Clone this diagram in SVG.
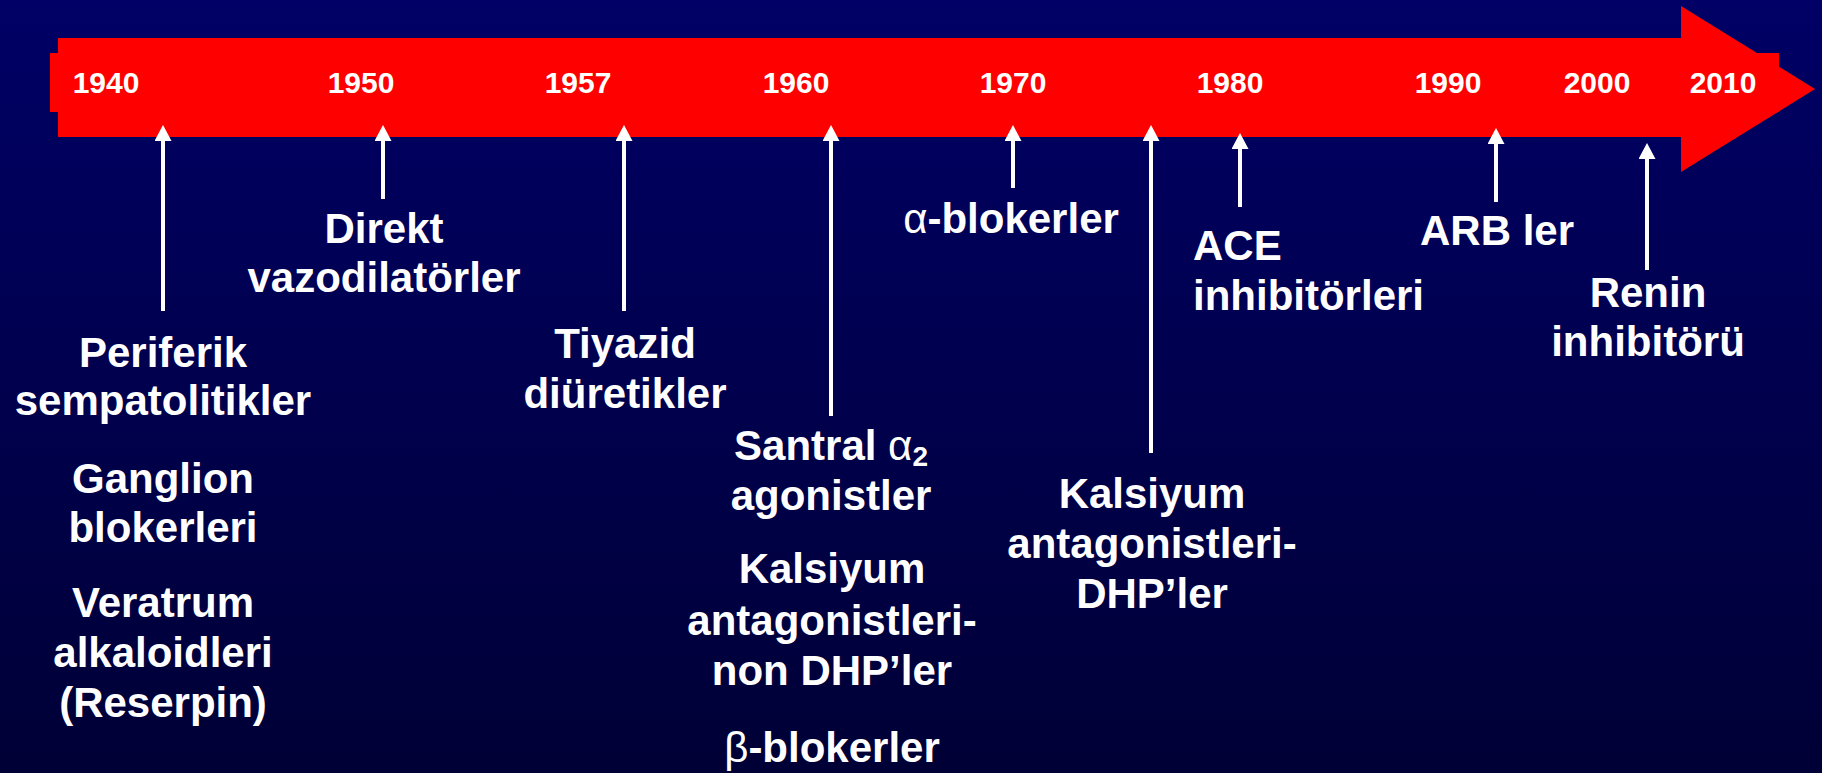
<svg xmlns="http://www.w3.org/2000/svg" width="1822" height="773" viewBox="0 0 1822 773">
<defs>
<linearGradient id="bg" x1="0" y1="0" x2="0" y2="1">
<stop offset="0" stop-color="#000066"/>
<stop offset="1" stop-color="#000036"/>
</linearGradient>
<marker id="head" markerUnits="userSpaceOnUse" markerWidth="16" markerHeight="17" refX="6" refY="8.5" orient="auto">
<path d="M0,0 L16,8.5 L0,17 Z" fill="#ffffff"/>
</marker>
<style>
.yr{font-family:"Liberation Sans",Arial,sans-serif;font-weight:bold;font-size:30px;fill:#ffffff;text-anchor:middle}
.lb{font-family:"Liberation Sans",Arial,sans-serif;font-weight:bold;font-size:42px;fill:#ffffff;text-anchor:middle}
.st{text-anchor:start}
.gk{font-weight:normal}
.cn line{stroke:#ffffff;stroke-width:4;marker-end:url(#head)}
</style>
</defs>
<rect x="0" y="0" width="1822" height="773" fill="url(#bg)"/>
<g id="timeline">
<rect x="50" y="53" width="1729" height="59" fill="#ff0000"/>
<polygon points="58,38 1681,38 1681,6 1815,89 1681,172 1681,137 58,137" fill="#ff0000"/>
<text class="yr" x="106" y="93">1940</text>
<text class="yr" x="361" y="93">1950</text>
<text class="yr" x="578" y="93">1957</text>
<text class="yr" x="796" y="93">1960</text>
<text class="yr" x="1013" y="93">1970</text>
<text class="yr" x="1230" y="93">1980</text>
<text class="yr" x="1448" y="93">1990</text>
<text class="yr" x="1597" y="93">2000</text>
<text class="yr" x="1723" y="93">2010</text>
</g>
<g id="connectors" class="cn">
<line x1="163" y1="311" x2="163" y2="135"/>
<line x1="383" y1="199" x2="383" y2="135"/>
<line x1="624" y1="311" x2="624" y2="135"/>
<line x1="831" y1="416" x2="831" y2="135"/>
<line x1="1013" y1="188" x2="1013" y2="135"/>
<line x1="1151" y1="453" x2="1151" y2="135"/>
<line x1="1240" y1="207" x2="1240" y2="143"/>
<line x1="1496" y1="202" x2="1496" y2="138"/>
<line x1="1647" y1="270" x2="1647" y2="153"/>
</g>
<g id="n1940">
<text class="lb" x="163" y="367">Periferik</text>
<text class="lb" x="163" y="415">sempatolitikler</text>
<text class="lb" x="163" y="493">Ganglion</text>
<text class="lb" x="163" y="542">blokerleri</text>
<text class="lb" x="163" y="617">Veratrum</text>
<text class="lb" x="163" y="667">alkaloidleri</text>
<text class="lb" x="163" y="717">(Reserpin)</text>
</g>
<g id="n1950">
<text class="lb" x="384" y="243">Direkt</text>
<text class="lb" x="384" y="292">vazodilatörler</text>
</g>
<g id="n1957">
<text class="lb" x="625" y="358">Tiyazid</text>
<text class="lb" x="625" y="408">diüretikler</text>
</g>
<g id="n1960">
<text class="lb" x="831" y="460">Santral <tspan class="gk">α</tspan><tspan font-size="28" dy="6">2</tspan></text>
<text class="lb" x="831" y="510">agonistler</text>
<text class="lb" x="832" y="583">Kalsiyum</text>
<text class="lb" x="832" y="635">antagonistleri-</text>
<text class="lb" x="832" y="685">non DHP’ler</text>
<text class="lb" x="832" y="762"><tspan class="gk">β</tspan>-blokerler</text>
</g>
<g id="n1970">
<text class="lb" x="1011" y="233"><tspan class="gk">α</tspan>-blokerler</text>
</g>
<g id="n1975">
<text class="lb" x="1152" y="508">Kalsiyum</text>
<text class="lb" x="1152" y="558">antagonistleri-</text>
<text class="lb" x="1152" y="608">DHP’ler</text>
</g>
<g id="n1980">
<text class="lb st" x="1193" y="260">ACE</text>
<text class="lb st" x="1193" y="310">inhibitörleri</text>
</g>
<g id="n1990">
<text class="lb" x="1497" y="245">ARB ler</text>
</g>
<g id="n2000">
<text class="lb" x="1648" y="307">Renin</text>
<text class="lb" x="1648" y="356">inhibitörü</text>
</g>
</svg>
